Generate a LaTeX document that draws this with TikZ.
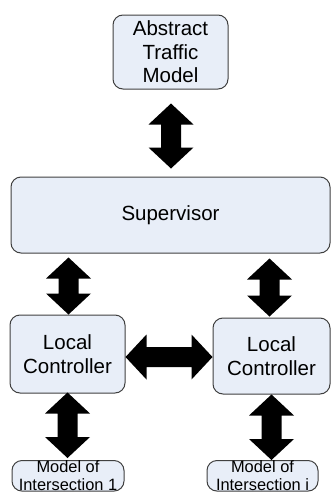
\documentclass[tikz,border=0pt]{standalone}
\usepackage{fontspec}
\setmainfont{Liberation Sans}
\usetikzlibrary{calc}
\definecolor{boxfill}{HTML}{E8EEF8}
\definecolor{boxline}{HTML}{404040}
\tikzset{
  block/.style={draw=boxline, fill=boxfill, line width=1pt, rounded corners=10pt,
    align=center, inner sep=0pt, font=\fontsize{20.5}{23.5}\selectfont},
  smallblock/.style={block, font=\fontsize{16.4}{17.5}\selectfont, inner xsep=0pt, inner ysep=0.5pt},
  % filled double-headed block arrow from the start point to the target point
  blockarrow/.style={fill=black, line join=miter, to path={
    -- ($(\tikztostart)!21pt!(\tikztotarget)!22.5pt!90:(\tikztotarget)$)
    -- ($(\tikztostart)!21pt!(\tikztotarget)!10pt!90:(\tikztotarget)$)
    -- ($(\tikztotarget)!21pt!(\tikztostart)!10pt!-90:(\tikztostart)$)
    -- ($(\tikztotarget)!21pt!(\tikztostart)!22.5pt!-90:(\tikztostart)$)
    -- (\tikztotarget)
    -- ($(\tikztotarget)!21pt!(\tikztostart)!22.5pt!90:(\tikztostart)$)
    -- ($(\tikztotarget)!21pt!(\tikztostart)!10pt!90:(\tikztostart)$)
    -- ($(\tikztostart)!21pt!(\tikztotarget)!10pt!-90:(\tikztotarget)$)
    -- ($(\tikztostart)!21pt!(\tikztotarget)!22.5pt!-90:(\tikztotarget)$)
    -- cycle}}
}
\begin{document}
\begin{tikzpicture}[x=1pt, y=-1pt]
\useasboundingbox (0,0) rectangle (331,493);

\node[block, minimum width=115pt, minimum height=74pt] (atm) at (170.5,52) {Abstract\\Traffic\\Model};
\node[block, minimum width=319pt, minimum height=76pt] (sup) at (170.5,215) {Supervisor};
\node[block, minimum width=115pt, minimum height=78pt] (lc1) at (67.5,354) {Local\\Controller};
\node[block, minimum width=117pt, minimum height=76pt] (lc2) at (271.5,356) {Local\\Controller};
\node[smallblock, minimum width=112pt, anchor=north] (mi1) at (68,460) {Model of\\Intersection 1};
\node[smallblock, minimum width=111pt, anchor=north] (mii) at (262.5,460) {Model of\\Intersection i};

\path[blockarrow] ($(atm.south)+(0.5,14)$) to ($(sup.north)+(0.5,-8)$);
\path[blockarrow] ($(sup.south -| lc1)+(1,4)$) to ($(lc1.north)+(1,0)$);
\path[blockarrow] ($(sup.south -| lc2)+(-2,5)$) to ($(lc2.north)+(-2,-1)$);
\path[blockarrow] ($(lc1.east)+(0,3)$) to ($(lc2.west)+(0,1)$);
\path[blockarrow] ($(lc1.south)+(0,-1)$) to ($(mi1.north -| lc1)+(0,-2)$);
\path[blockarrow] (lc2.south) to ($(mii.north -| lc2)+(0,0)$);
\end{tikzpicture}
\end{document}
